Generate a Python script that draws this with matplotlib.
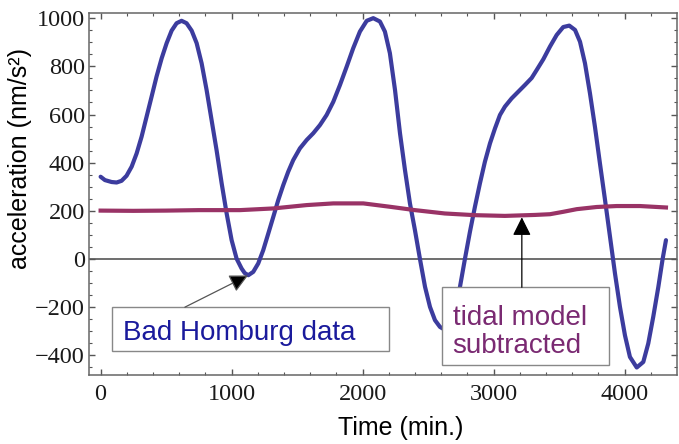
import matplotlib
matplotlib.use("Agg")
import matplotlib.pyplot as plt
from matplotlib.patches import Rectangle
from matplotlib.ticker import MultipleLocator

# Bad Homburg gravimeter data (nm/s^2) vs time (min.)
data_time = [0, 33, 84, 122, 160, 198, 237, 275, 313, 351, 389, 427, 466, 504,
             542, 580, 618, 656, 695, 733, 771, 809, 847, 885, 924, 962, 1000,
             1038, 1076, 1100, 1127, 1165, 1203, 1241, 1280, 1318, 1356, 1394,
             1432, 1470, 1521, 1573, 1623, 1674, 1725, 1776, 1827, 1878, 1928,
             1979, 2031, 2081, 2132, 2170, 2208, 2247, 2285, 2323, 2361, 2399,
             2437, 2476, 2514, 2552, 2590, 2640, 2700, 2743, 2781, 2819, 2857,
             2895, 2933, 2972, 3010, 3048, 3086, 3137, 3188, 3239, 3290, 3328,
             3379, 3430, 3481, 3531, 3577, 3621, 3659, 3697, 3735, 3773, 3811,
             3850, 3888, 3926, 3964, 4002, 4040, 4092, 4142, 4180, 4218, 4257,
             4290, 4315]
data_acc = [341, 327, 319, 317, 324, 345, 383, 438, 508, 591, 674, 758, 834, 897,
            949, 980, 990, 980, 949, 897, 813, 702, 577, 452, 313, 188, 77,
            0, -41, -60, -69, -55, -20, 35, 105, 174, 244, 306,
            362, 410, 459, 494, 522, 556, 598, 653, 723, 799, 876,
            945, 990, 1001, 987, 945, 855, 702, 522, 369, 230, 119,
            0, -117, -201, -256, -284, -300, -240, -117, 0, 112, 216,
            313, 403, 480, 542, 598, 633, 667, 695, 723, 752, 785,
            830, 883, 931, 964, 970, 952, 903, 813, 688, 549, 397,
            244, 91, -62, -201, -319, -409, -453, -430, -353, -242, -117,
            0, 77]

# tidal model subtracted
tide_time = [0, 250, 500, 750, 1063, 1318, 1573, 1776, 2005, 2208, 2399, 2628,
             2857, 3086, 3315, 3430, 3531, 3634, 3786, 3939, 4117, 4315]
tide_acc = [200, 199, 200, 202, 202, 209, 223, 230, 230, 216, 202, 188,
            181, 178, 182, 185, 195, 206, 215, 219, 219, 213]

fig = plt.figure(figsize=(6.79, 4.44), dpi=100)
ax = fig.add_axes([0.131, 0.155, 0.866, 0.816])

ax.axhline(0, color='#555555', lw=1.2, zorder=1)
ax.plot(data_time, data_acc, color='#3c3c9e', lw=3.0, solid_capstyle='round',
        solid_joinstyle='round', zorder=2)
ax.plot(tide_time, tide_acc, color='#993366', lw=3.0, zorder=3)

ax.set_xlim(-89, 4399)
ax.set_ylim(-485, 1023)

ax.xaxis.set_major_locator(MultipleLocator(1000))
ax.xaxis.set_minor_locator(MultipleLocator(200))
ax.yaxis.set_major_locator(MultipleLocator(200))
ax.yaxis.set_minor_locator(MultipleLocator(50))
ax.tick_params(which='both', direction='in', top=True, right=True, color='#555555')
ax.tick_params(which='major', length=4.5, width=1.0)
ax.tick_params(which='minor', length=2.2, width=0.8)
ax.tick_params(axis='x', pad=6)
ax.tick_params(axis='y', pad=3)
for lab in ax.get_xticklabels() + ax.get_yticklabels():
    lab.set_fontfamily('Liberation Serif')
    lab.set_fontsize(17.5)
    lab.set_color('#1a1a1a')
for sp in ax.spines.values():
    sp.set_color('#666666')
    sp.set_linewidth(1.1)

ax.set_xlabel('Time (min.)', fontsize=18, family='Liberation Sans')
ax.set_ylabel('acceleration (nm/s²)', fontsize=18, family='Liberation Sans')
ax.xaxis.set_label_coords(0.531, -0.113)
ax.yaxis.set_label_coords(-0.097, 0.597)

# annotation boxes
ax.add_patch(Rectangle((86, -385), 2115, 183, fc='white', ec='#888888', lw=1.0, zorder=5))
ax.text(171, -340, 'Bad Homburg data', color='#1a1a9c', fontsize=20,
        family='Liberation Sans', va='baseline', ha='left', zorder=6)
ax.annotate('', xy=(1125, -70), xytext=(643, -202),
            arrowprops=dict(arrowstyle='-|>', color='#555555', fc='black', lw=0.9,
                            mutation_scale=28, shrinkA=0, shrinkB=0), zorder=6)

ax.add_patch(Rectangle((2605, -444), 1275, 325, fc='white', ec='#888888', lw=1.0, zorder=5))
ax.text(2686, -394, 'tidal model\nsubtracted', color='#7a2a72', fontsize=20,
        family='Liberation Sans', va='baseline', ha='left', linespacing=1.12, zorder=6)
ax.annotate('', xy=(3215, 172), xytext=(3215, -119),
            arrowprops=dict(arrowstyle='-|>', color='#888888', fc='black', ec='black',
                            lw=0.9, mutation_scale=28, shrinkA=0, shrinkB=0), zorder=6)

fig.savefig('out.png', dpi=100)
